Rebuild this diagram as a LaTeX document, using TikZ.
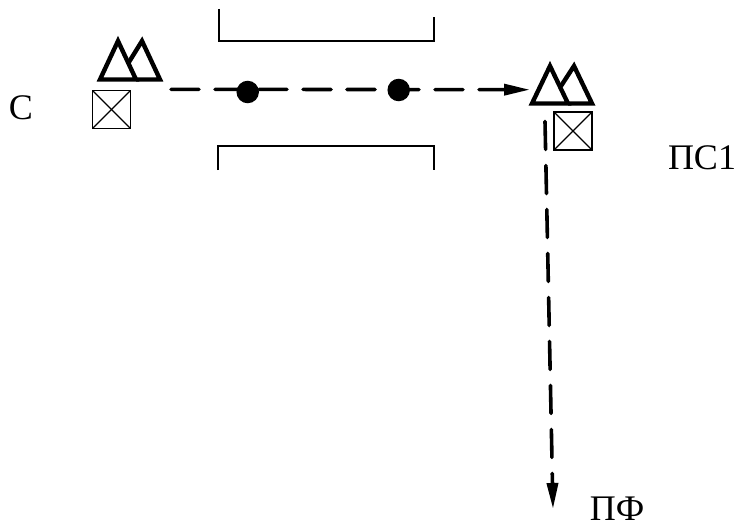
\documentclass[tikz,border=0pt]{standalone}
\usepackage{fontspec}
\setmainfont{Liberation Serif}
\usetikzlibrary{arrows.meta}

\begin{document}
\begin{tikzpicture}[x=1pt,y=-1pt,
    mark label/.style={inner sep=0pt,font=\fontsize{36}{36}\selectfont},
    tri/.style={line width=4.4pt,miter limit=6,line join=miter},
    box/.style={draw,line width=1.7pt,minimum size=38pt,inner sep=0pt,outer sep=0pt},
    dot/.style={circle,fill=black,minimum size=22.5pt,inner sep=0pt},
    wall/.style={line width=1.5pt},
    route/.style={line width=3.6pt,line cap=round,dash pattern=on 28pt off 16pt,
      -{Stealth[length=26pt,width=11pt,inset=0pt]}}]
    \useasboundingbox (0,0) rectangle (739,527);
    % labels
    \node[mark label] (src) at (21,108) {С};
    \node[mark label] (post) at (702,158) {ПС1};
    \node[mark label] (field) at (617,508.5) {ПФ};
    % boxes
    \node[box] (srcbox) at (111.5,109.5) {};
    \node[box] (postbox) at (573,131) {};
    \draw[line width=1.3pt] (srcbox.north west) -- (srcbox.south east);
    \draw[line width=1.3pt] (srcbox.north east) -- (srcbox.south west);
    \draw[line width=1.3pt] (postbox.north west) -- (postbox.south east);
    \draw[line width=1.3pt] (postbox.north east) -- (postbox.south west);
    % triangles
    \draw[tri] (100,79.5) -- (118,41) -- (136,79.5) -- cycle;
    \draw[tri] (129,62) -- (142,41) -- (160,79.5) -- (136,79.5);
    \draw[tri] (532,103.5) -- (550,66) -- (568,103.5) -- cycle;
    \draw[tri] (561,86) -- (574,66) -- (592,103.5) -- (568,103.5);
    % walls
    \coordinate (wall1a) at (219,9);
    \coordinate (wall1b) at (219,41);
    \coordinate (wall1c) at (434,41);
    \coordinate (wall1d) at (434,17);
    \coordinate (wall2a) at (218,170);
    \coordinate (wall2b) at (218,146);
    \coordinate (wall2c) at (434,146);
    \coordinate (wall2d) at (434,170);
    \draw[wall] (wall1a) -- (wall1b) -- (wall1c) -- (wall1d);
    \draw[wall] (wall2a) -- (wall2b) -- (wall2c) -- (wall2d);
    % route
    \coordinate (r0) at (171,89.3);
    \coordinate (r1) at (530,89.7);
    \coordinate (r2) at (545,121.5);
    \coordinate (r3) at (553,509);
    \draw[route] (r0) -- (r1);
    \draw[route] (r2) -- (r3);
    \node[dot] (ball1) at (247.7,92) {};
    \node[dot] (ball2) at (398.7,90) {};
\end{tikzpicture}
\end{document}
